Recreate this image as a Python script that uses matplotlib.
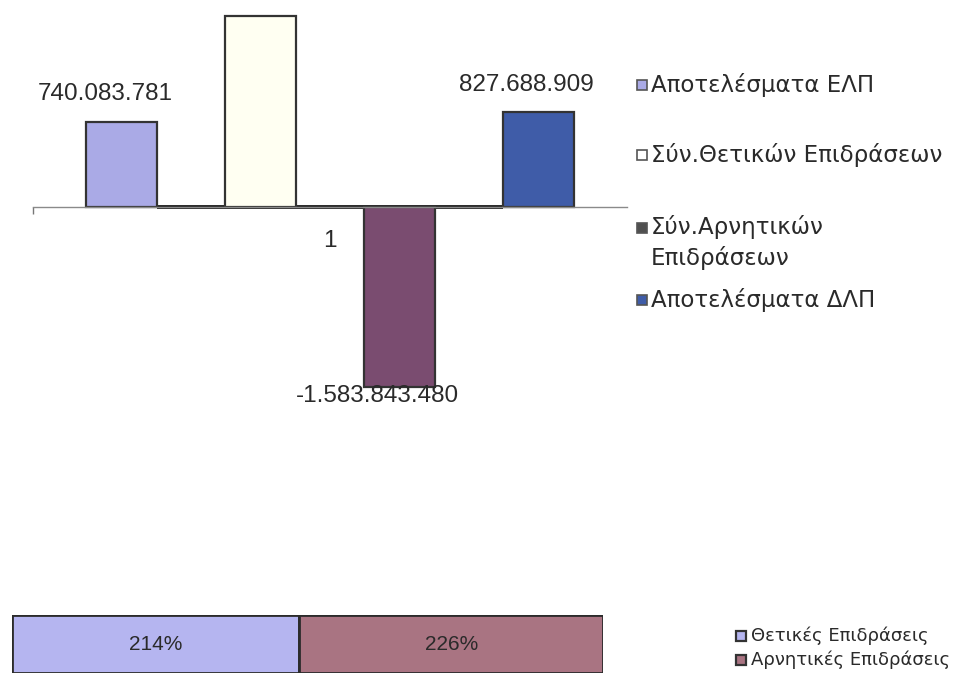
import matplotlib
matplotlib.use("Agg")
import matplotlib.pyplot as plt
from matplotlib.patches import Rectangle

plt.rcParams['font.family'] = ['Liberation Sans', 'DejaVu Sans']

# ---- data -------------------------------------------------------------
categories = ['1']
series_names = ['Αποτελέσματα ΕΛΠ', 'Σύν.Θετικών Επιδράσεων',
                'Σύν.Αρνητικών\nΕπιδράσεων', 'Αποτελέσματα ΔΛΠ']
series_values = [740083781, 1671448608, -1583843480, 827688909]
show_value = [True, False, True, True]

share_names = ['Θετικές Επιδράσεις', 'Αρνητικές Επιδράσεις']
share_values = [214, 226]

# ---- styling ----------------------------------------------------------
bar_colors = ['#aaaae6', '#fffff2', '#7a4c70', '#3f5ca8']
legend_marker_colors = ['#aaaae6', '#ffffff', '#505050', '#3f5ca8']
share_colors = ['#b5b5f0', '#a97482']
edge = '#333333'
text_color = '#2a2a2a'
legend_font = ['DejaVu Sans']

W, H = 970, 683
fig = plt.figure(figsize=(W / 100, H / 100), dpi=100)
fig.patch.set_facecolor('white')


def fx(px):
    return px / W


def fy(py):
    return 1 - py / H


# ---- main clustered bar chart ----------------------------------------
ax = fig.add_axes([fx(33), fy(412), 594 / W, 398 / H])
ax.set_facecolor('none')
n = len(series_values)
spacing = 0.234
width = 0.118
positions = [(i - (n - 1) / 2) * spacing for i in range(n)]

# dark run along the baseline between the bars
ax.plot([positions[0] + width / 2, positions[-1] - width / 2], [0, 0],
        color='#222222', lw=2.8, solid_capstyle='butt', zorder=1.5)

bars = ax.bar(positions, series_values, width=width, color=bar_colors,
              edgecolor=edge, linewidth=1.6, zorder=2)


def fmt(v):
    return f"{v:,}".replace(',', '.')


label_offsets = [(-16, 28), None, (-22, -9), (-12, 27)]
for bar, v, show, off in zip(bars, series_values, show_value, label_offsets):
    if not show:
        continue
    x = bar.get_x() + bar.get_width() / 2
    ax.annotate(fmt(v), xy=(x, v), xytext=off, textcoords='offset pixels',
                ha='center', va='center', fontsize=17.5, color=text_color)

ax.set_xlim(-0.5, 0.5)
ax.set_ylim(-1.80e9, 1.69e9)
for s in ['top', 'right', 'left']:
    ax.spines[s].set_visible(False)
ax.spines['bottom'].set_position(('data', 0))
ax.spines['bottom'].set_color('#8a8a8a')
ax.spines['bottom'].set_linewidth(1.0)
ax.set_yticks([])
ax.set_xticks([0])
ax.set_xticklabels(categories, fontsize=17.5, color=text_color)
ax.tick_params(axis='x', which='major', length=0, pad=17)
ax.set_xticks([-0.5], minor=True)
ax.tick_params(axis='x', which='minor', length=5, width=1, color='#777777',
               direction='out')

# legend for the main chart
legend_rows = [85, 155, 228, 300]
for name, col, py in zip(series_names, legend_marker_colors, legend_rows):
    fig.patches.append(Rectangle((fx(637), fy(py + 5)), 10 / W, 10 / H,
                                 transform=fig.transFigure, facecolor=col,
                                 edgecolor='#555555', linewidth=1.2))
    if '\n' in name:
        fig.text(fx(651), fy(py - 13), name, ha='left', va='top',
                 fontsize=16.5, color=text_color, linespacing=1.35,
                 family=legend_font)
    else:
        fig.text(fx(651), fy(py), name, ha='left', va='center',
                 fontsize=16.5, color=text_color, family=legend_font)

# ---- stacked share bar -----------------------------------------------
ax2 = fig.add_axes([fx(12), fy(673), 591 / W, 58 / H])
left = 0
for v, col in zip(share_values, share_colors):
    ax2.barh(0, v, left=left, height=1.0, color=col, edgecolor='#2b2b2b',
             linewidth=2.0)
    ax2.text(left + v / 2, 0, f"{v}%", ha='center', va='center',
             fontsize=15, color=text_color)
    left += v
ax2.set_xlim(0, sum(share_values))
ax2.set_ylim(-0.5, 0.5)
ax2.axis('off')

for name, col, py in zip(share_names, share_colors, [636, 660]):
    fig.patches.append(Rectangle((fx(736), fy(py + 5)), 10 / W, 10 / H,
                                 transform=fig.transFigure, facecolor=col,
                                 edgecolor='#333333', linewidth=1.6))
    fig.text(fx(751), fy(py), name, ha='left', va='center', fontsize=13,
             color=text_color, family=legend_font)

fig.savefig('out.png', dpi=100, facecolor='white')
